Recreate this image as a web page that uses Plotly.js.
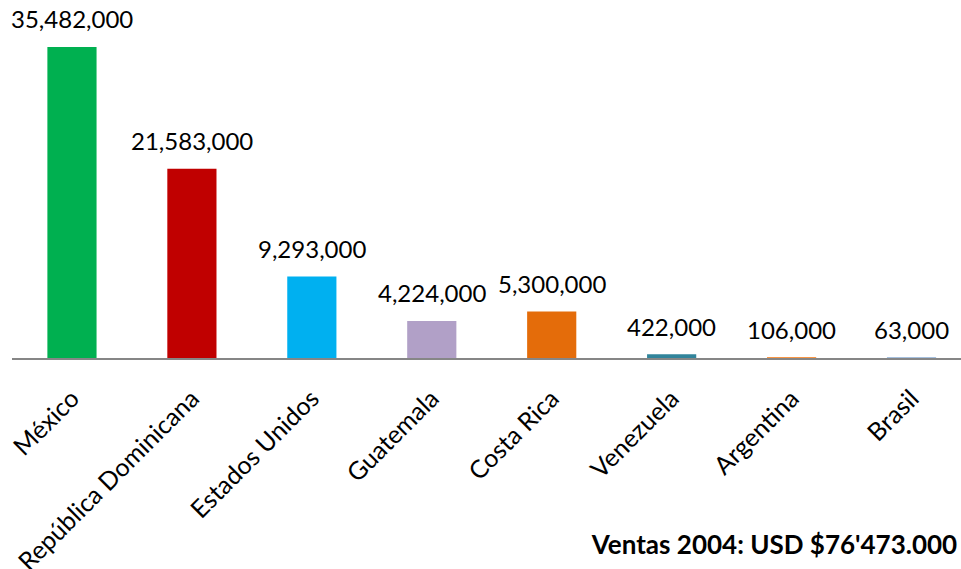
<!DOCTYPE html>
<html><head><meta charset="utf-8">
<script src="https://cdn.plot.ly/plotly-3.0.1.min.js"></script>
<style>body{margin:0;background:#fff}#c{width:961px;height:569px}</style>
</head><body><div id="c"></div>
<script>
const countries = ["México","República Dominicana","Estados Unidos","Guatemala","Costa Rica","Venezuela","Argentina","Brasil"];
const sales = [35482000,21583000,9293000,4224000,5300000,422000,106000,63000];
const labels = ["35,482,000","21,583,000","9,293,000","4,224,000","5,300,000","422,000","106,000","63,000"];
const colors = ["#00B050","#C00000","#00B0F0","#B1A0C7","#E46C0A","#31849B","#F79646","#4F81BD"];
const title = "Ventas 2004: USD $76'473.000";

const F = "Lato, 'Open Sans', sans-serif";
const trace = {type:"bar", x:countries, y:sales, marker:{color:colors}, hoverinfo:"skip"};
const annotations = countries.map((c,i)=>({x:c, y:sales[i], text:labels[i], showarrow:false,
  xref:"x", yref:"y", yanchor:"middle", yshift:28, font:{family:F,size:24,color:"#000"}}));
const layout = {
  width:961, height:569,
  margin:{l:11.5, r:0, t:0, b:211},
  paper_bgcolor:"#fff", plot_bgcolor:"#fff",
  bargap:0.59,
  showlegend:false,
  title:{text:"<b>"+title+"</b>", x:0.996, xanchor:"right", xref:"paper", y:0.042, yanchor:"middle", yref:"container",
    font:{family:F, size:26, color:"#000"}},
  xaxis:{range:[-0.5,7.4125], showline:true, linecolor:"#868686", linewidth:2, ticks:"", tickangle:-45,
    ticklabelstandoff:14,
    tickfont:{family:F,size:25,color:"#000"}, showgrid:false, zeroline:false, fixedrange:true},
  yaxis:{range:[0,40840000], visible:false, showgrid:false, zeroline:false, fixedrange:true},
  annotations:annotations
};
Plotly.newPlot("c",[trace],layout,{displayModeBar:false, staticPlot:true});
</script></body></html>
